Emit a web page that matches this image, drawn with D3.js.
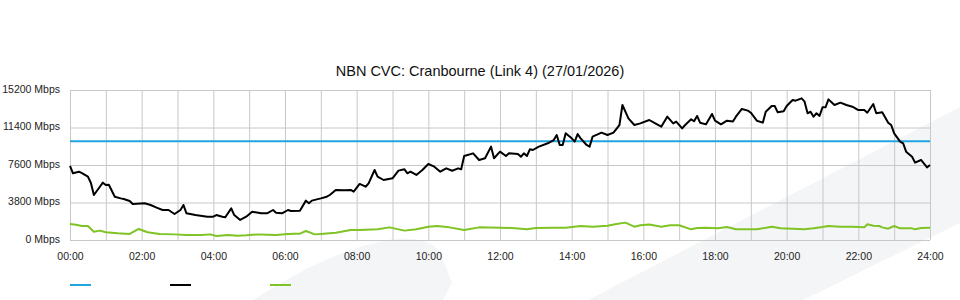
<!DOCTYPE html>
<html>
<head>
<meta charset="utf-8">
<script src="https://cdn.jsdelivr.net/npm/d3@7"></script>
<style>
  body { margin: 0; background: #fff; }
  svg { display: block; font-family: "Liberation Sans", Arial, sans-serif; }
  .grid line { stroke: #c8c8c8; stroke-width: 1; }
  .grid path { display: none; }
  .axis text { fill: #222; font-size: 10.5px; }
  .axis path, .axis line { display: none; }
</style>
</head>
<body>
<div id="chart"></div>
<script>
// chart values
const title = 'NBN CVC: Cranbourne (Link 4) (27/01/2026)';
const xTickLabels = ['00:00', '02:00', '04:00', '06:00', '08:00', '10:00', '12:00',
  '14:00', '16:00', '18:00', '20:00', '22:00', '24:00'];
const yTickValues = [0, 3800, 7600, 11400, 15200];
const capacity = 10000; // Mbps, flat blue line
const legendNames = ['', '', '']; // legend has no text in the source

// black series (time, Mbps)
const inbound = [
  ['00:00', 7500], ['00:05', 6760], ['00:15', 6920], ['00:20', 6780], ['00:30', 6420],
  ['00:35', 5780], ['00:40', 4560], ['00:50', 5400], ['00:55', 5810], ['01:00', 5570],
  ['01:05', 5600], ['01:15', 4390], ['01:25', 4220], ['01:30', 4150], ['01:40', 3950],
  ['01:45', 3650], ['02:05', 3715], ['02:15', 3550], ['02:25', 3280], ['02:35', 3040],
  ['02:45', 3040], ['02:55', 2630], ['03:05', 3040], ['03:10', 3550], ['03:15', 2700],
  ['03:30', 2530], ['03:50', 2360], ['04:00', 2360], ['04:05', 2530], ['04:15', 2360],
  ['04:20', 2300], ['04:30', 3210], ['04:35', 2530], ['04:45', 2030], ['04:55', 2360],
  ['05:05', 2870], ['05:20', 2700], ['05:30', 2700], ['05:40', 3040], ['05:45', 2770],
  ['05:55', 2700], ['06:05', 3040], ['06:10', 2940], ['06:25', 2970], ['06:35', 3990],
  ['06:40', 3720], ['06:45', 3990], ['07:00', 4220], ['07:10', 4390], ['07:15', 4560],
  ['07:25', 5070], ['07:40', 5040], ['07:50', 5070], ['07:55', 4900], ['08:05', 5680],
  ['08:15', 5400], ['08:20', 5740], ['08:30', 7090], ['08:35', 6420], ['08:45', 6080],
  ['09:00', 6250], ['09:10', 7030], ['09:20', 7160], ['09:25', 6760], ['09:30', 6920],
  ['09:40', 6590], ['09:50', 7090], ['10:00', 7700], ['10:10', 7430], ['10:20', 6920],
  ['10:30', 7260], ['10:40', 7020], ['10:50', 7260], ['10:55', 7160], ['11:00', 8510],
  ['11:15', 8780], ['11:25', 8110], ['11:35', 8280], ['11:45', 9460], ['11:50', 8280],
  ['12:00', 8950], ['12:10', 8510], ['12:15', 8780], ['12:30', 8710], ['12:35', 8440],
  ['12:40', 8780], ['12:45', 8510], ['12:50', 9190], ['12:55', 9120], ['13:05', 9460],
  ['13:20', 9800], ['13:30', 10130], ['13:35', 10640], ['13:40', 9630], ['13:45', 9630],
  ['13:50', 10810], ['14:00', 10300], ['14:05', 9970], ['14:10', 10740], ['14:15', 10300],
  ['14:25', 9630], ['14:30', 9460], ['14:35', 10470], ['14:50', 10880], ['15:00', 10640],
  ['15:10', 10880], ['15:20', 11650], ['15:25', 13680], ['15:35', 12330], ['15:45', 11650],
  ['15:55', 11820], ['16:10', 12160], ['16:20', 11820], ['16:30', 11480], ['16:40', 12500],
  ['16:50', 11820], ['16:55', 12000], ['17:05', 11310], ['17:10', 11650], ['17:20', 12230],
  ['17:25', 12030], ['17:30', 12570], ['17:35', 11890], ['17:45', 11720], ['17:55', 12770],
  ['18:00', 12100], ['18:10', 11720], ['18:20', 12090], ['18:30', 12000], ['18:35', 12500],
  ['18:45', 13280], ['18:55', 13110], ['19:00', 12900], ['19:10', 12090], ['19:20', 11890],
  ['19:25', 13000], ['19:35', 13580], ['19:40', 13580], ['19:45', 12940], ['19:55', 13050],
  ['20:00', 13580], ['20:10', 14190], ['20:15', 14120], ['20:25', 14350], ['20:30', 14020],
  ['20:35', 12840], ['20:40', 13000], ['20:45', 12500], ['20:50', 12840], ['20:55', 12570],
  ['21:00', 13440], ['21:05', 13440], ['21:10', 14250], ['21:20', 13680], ['21:30', 13920],
  ['21:40', 13680], ['21:50', 13510], ['22:00', 13170], ['22:10', 13170], ['22:15', 12900],
  ['22:25', 13780], ['22:30', 12840], ['22:40', 12940], ['22:50', 11890], ['22:55', 11650],
  ['23:00', 10810], ['23:10', 9970], ['23:15', 9800], ['23:20', 8950], ['23:30', 8440],
  ['23:35', 7840], ['23:45', 8110], ['23:55', 7360], ['24:00', 7600]
];

// green series (time, Mbps)
const outbound = [
  ['00:00', 1620], ['00:10', 1550], ['00:20', 1420], ['00:30', 1420], ['00:40', 840],
  ['00:50', 950], ['01:00', 780], ['01:20', 680], ['01:40', 610], ['01:55', 1120],
  ['02:10', 780], ['02:30', 610], ['02:55', 570], ['03:15', 510], ['03:40', 510],
  ['03:55', 570], ['04:05', 410], ['04:25', 510], ['04:40', 440], ['04:55', 470],
  ['05:15', 570], ['05:30', 540], ['05:45', 510], ['06:05', 610], ['06:15', 640],
  ['06:25', 640], ['06:35', 910], ['06:50', 570], ['07:00', 610], ['07:25', 740],
  ['07:50', 1010], ['08:05', 1010], ['08:35', 1080], ['08:55', 1280], ['09:20', 950],
  ['09:40', 1080], ['10:00', 1350], ['10:15', 1420], ['10:35', 1280], ['11:00', 1010],
  ['11:25', 1280], ['12:00', 1250], ['12:20', 1220], ['12:45', 1080], ['13:00', 1220],
  ['13:30', 1250], ['13:50', 1250], ['14:15', 1420], ['14:35', 1350], ['15:00', 1450],
  ['15:15', 1620], ['15:30', 1760], ['15:40', 1490], ['15:45', 1350], ['15:55', 1490],
  ['16:10', 1560], ['16:30', 1350], ['16:45', 1490], ['17:00', 1490], ['17:20', 1080],
  ['17:30', 1220], ['17:45', 1250], ['18:05', 1180], ['18:20', 1310], ['18:35', 1080],
  ['18:55', 1080], ['19:10', 1080], ['19:35', 1350], ['19:50', 1180], ['20:10', 1150],
  ['20:30', 1080], ['20:45', 1180], ['21:00', 1310], ['21:10', 1420], ['21:30', 1350],
  ['21:50', 1350], ['22:10', 1280], ['22:15', 1590], ['22:25', 1450], ['22:35', 1420],
  ['22:40', 1280], ['22:50', 1150], ['23:00', 1420], ['23:10', 1180], ['23:30', 1180],
  ['23:35', 1080], ['23:45', 1220], ['24:00', 1250]
];

const colors = { capacity: '#1fa5df', inbound: '#000000', outbound: '#7fc324' };

// layout
const W = 960, H = 300;
const margin = { top: 90, right: 30, bottom: 60, left: 70 };
const width = W - margin.left - margin.right;
const height = H - margin.top - margin.bottom;

const toHours = (s) => { const p = s.split(':'); return +p[0] + p[1] / 60; };

const svg = d3.select('#chart').append('svg')
  .attr('width', W)
  .attr('height', H);

// faint watermark shapes behind the chart
svg.append('path')
  .attr('fill', '#f4f5f7')
  .attr('d', 'M253,300 C285,280 330,252 387,240 C410,236 432,240 440,252 L452,283 L443,300 Z');
svg.append('path')
  .attr('fill', '#f4f5f7')
  .attr('d', 'M588,300 L960,107 L960,223 L803,300 Z');

const g = svg.append('g')
  .attr('transform', 'translate(' + margin.left + ',' + margin.top + ')');

const x = d3.scaleLinear().domain([0, 24]).range([0, width]);
const y = d3.scaleLinear().domain([0, 15200]).range([height, 0]);

// grid: every hour vertically, every tick horizontally
g.append('g')
  .attr('class', 'grid')
  .attr('transform', 'translate(0,' + height + ')')
  .call(d3.axisBottom(x).tickValues(d3.range(0, 25)).tickSize(-height).tickFormat(''));
g.append('g')
  .attr('class', 'grid')
  .call(d3.axisLeft(y).tickValues(yTickValues).tickSize(-width).tickFormat(''));

// axis labels
g.append('g')
  .attr('class', 'axis')
  .attr('transform', 'translate(0,' + height + ')')
  .call(d3.axisBottom(x).tickValues(d3.range(0, 25, 2)).tickSize(0).tickPadding(0)
    .tickFormat((d, i) => xTickLabels[i]))
  .selectAll('text')
  .attr('y', 20)
  .attr('dy', 0);
g.append('g')
  .attr('class', 'axis')
  .call(d3.axisLeft(y).tickValues(yTickValues).tickSize(0).tickPadding(10)
    .tickFormat((d) => d + ' Mbps'))
  .selectAll('text')
  .attr('dy', '0.2em');

// series
const line = d3.line()
  .x((d) => x(toHours(d[0])))
  .y((d) => y(d[1]));

g.append('path')
  .datum([['00:00', capacity], ['24:00', capacity]])
  .attr('fill', 'none')
  .attr('stroke', colors.capacity)
  .attr('stroke-width', 2)
  .attr('d', line);

g.append('path')
  .datum(outbound)
  .attr('fill', 'none')
  .attr('stroke', colors.outbound)
  .attr('stroke-width', 2)
  .attr('stroke-linejoin', 'round')
  .attr('d', line);

g.append('path')
  .datum(inbound)
  .attr('fill', 'none')
  .attr('stroke', colors.inbound)
  .attr('stroke-width', 2)
  .attr('stroke-linejoin', 'round')
  .attr('d', line);

// title
svg.append('text')
  .attr('x', W / 2)
  .attr('y', 75.5)
  .attr('text-anchor', 'middle')
  .attr('fill', '#111')
  .style('font-size', '14.5px')
  .text(title);

// legend: short swatches with (empty) names
const legend = svg.append('g').attr('transform', 'translate(70,285)');
const legendKeys = ['capacity', 'inbound', 'outbound'];
legendKeys.forEach((k, i) => {
  const item = legend.append('g').attr('transform', 'translate(' + (i * 100) + ',0)');
  item.append('line')
    .attr('x1', 0).attr('x2', 21)
    .attr('stroke', colors[k])
    .attr('stroke-width', 2);
  item.append('text')
    .attr('x', 26).attr('dy', '0.32em')
    .style('font-size', '10.5px')
    .text(legendNames[i]);
});
</script>
</body>
</html>
